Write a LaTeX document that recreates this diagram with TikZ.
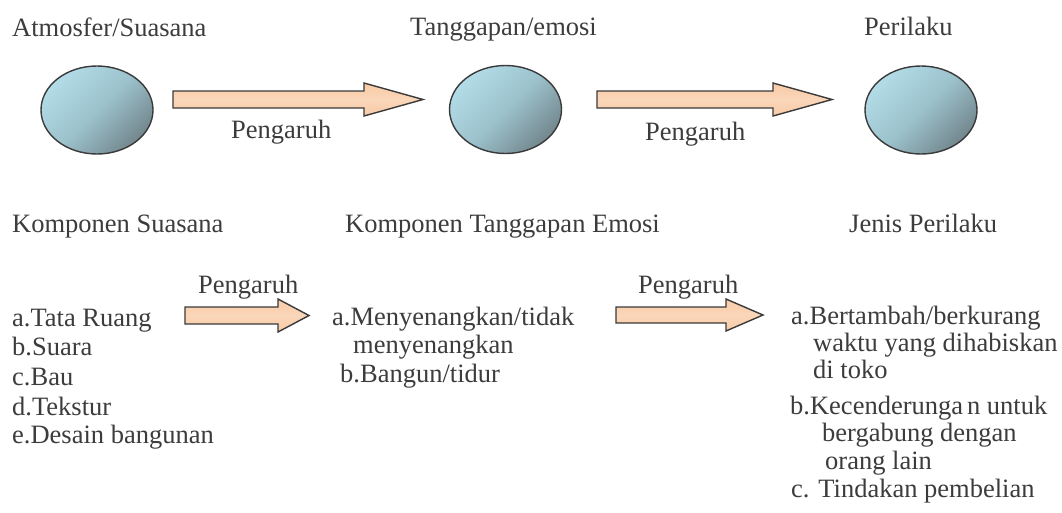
\documentclass[tikz,border=0pt]{standalone}
\usepackage{fontspec}
\setmainfont{Liberation Serif}
\usetikzlibrary{shapes.geometric}
\definecolor{txt}{HTML}{3C3C3C}
\definecolor{outl}{HTML}{3A3A3A}
\definecolor{elllight}{HTML}{B2DCE7}
\definecolor{ellmid}{HTML}{9CC2CC}
\definecolor{elldark}{HTML}{73878D}
\definecolor{arrfill}{HTML}{F8CBA6}
\definecolor{arrlight}{HTML}{FAD6B9}
\tikzset{
  lbl/.style={anchor=base west, inner sep=0pt, text=txt, font=\fontsize{26.5}{30}\selectfont},
  bubble/.style={ellipse, draw=outl, line width=1.4pt, minimum width=112pt, minimum height=88pt, inner sep=0pt,
    top color=elllight, bottom color=elldark, middle color=ellmid, shading angle=45},
  blockarrow/.style={draw=outl, line width=1.4pt, line join=miter, left color=arrfill, right color=arrfill, middle color=arrlight, shading angle=0},
}
% #1 left x, #2 head base x, #3 tip x, #4 centre y, #5 shaft half height, #6 head half height, #7 name
\newcommand\blkarrow[7]{%
  \coordinate (#7-tail) at (#1,#4);
  \coordinate (#7-tip) at (#3,#4);
  \draw[blockarrow] (#1,#4-#5) -- (#2,#4-#5) -- (#2,#4-#6) -- (#7-tip) -- (#2,#4+#6) -- (#2,#4+#5) -- (#1,#4+#5) -- cycle;}
\begin{document}
\begin{tikzpicture}[x=1pt,y=-1pt]
\useasboundingbox[fill=white] (0,0) rectangle (1062,512);

% top row
\node[lbl] (t1) at (12,36) {Atmosfer/Suasana};
\node[lbl] (t2) at (410,35) {Tanggapan/emosi};
\node[lbl] (t3) at (864,35) {Perilaku};

\node[bubble] (e1) at (97,110) {};
\node[bubble] (e2) at (505.5,109.5) {};
\node[bubble] (e3) at (921,110) {};

\blkarrow{173}{364}{423}{99.5}{8.5}{16.5}{a1}
\blkarrow{597}{773}{832}{99.5}{8.5}{16.5}{a2}

\node[lbl] (p1) at (231,138) {Pengaruh};
\node[lbl] (p2) at (645,140) {Pengaruh};

% headings
\node[lbl] (h1) at (12,232) {Komponen Suasana};
\node[lbl] (h2) at (345,232) {Komponen Tanggapan Emosi};
\node[lbl] (h3) at (849,232) {Jenis Perilaku};

% lower arrows
\node[lbl] (p3) at (198,293) {Pengaruh};
\node[lbl] (p4) at (638,293) {Pengaruh};
\blkarrow{185}{278}{309}{315.5}{8.5}{16.5}{a3}
\blkarrow{616}{726}{763}{315}{8}{16}{a4}

% left list
\node[lbl] (l1) at (12,326) {a.Tata Ruang};
\node[lbl] (l2) at (12,355) {b.Suara};
\node[lbl] (l3) at (12,385) {c.Bau};
\node[lbl] (l4) at (12,415) {d.Tekstur};
\node[lbl] (l5) at (12,443) {e.Desain bangunan};

% middle list
\node[lbl] (m1) at (332,325) {a.Menyenangkan/tidak};
\node[lbl] (m2) at (353,353) {menyenangkan};
\node[lbl] (m3) at (340,382) {b.Bangun/tidur};

% right list
\node[lbl] (r1) at (791,324) {a.Bertambah/berkurang};
\node[lbl] (r2) at (813,351) {waktu yang dihabiskan};
\node[lbl] (r3) at (813,378) {di toko};
\node[lbl] (r4) at (790,414) {b.Kecenderunga\kern4pt n untuk};
\node[lbl] (r5) at (822,441) {bergabung dengan};
\node[lbl] (r6) at (825,469) {orang lain};
\node[lbl] (r7) at (791,497) {c. Tindakan pembelian};
\end{tikzpicture}
\end{document}
